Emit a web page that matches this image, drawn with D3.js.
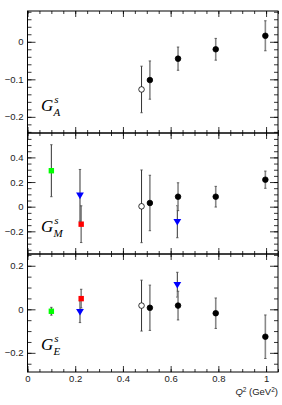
<!DOCTYPE html>
<html lang="en">
<head>
<meta charset="UTF-8">
<title>Strange form factors</title>
<script src="https://cdn.jsdelivr.net/npm/d3@7"></script>
<style>
    body { margin: 0; background: #fff; }
    text { font-family: "Liberation Sans", Arial, sans-serif; }
</style>
</head>
<body>
<div id="chart"></div>
<script>
var width = 282, height = 405;

// Q^2 positions of each data set
var q2Filled = [0.513, 0.631, 0.789, 0.997];
var q2Open = [0.478];
var q2Green = [0.1];
var q2Red = [0.225];
var q2Blue = [0.22, 0.628];

// G_A^s
var gaFilled = [-0.102, -0.045, -0.020, 0.016];
var gaFilledErr = [0.051, 0.031, 0.029, 0.040];
var gaOpen = [-0.127];
var gaOpenErr = [0.062];

// G_M^s
var gmFilled = [0.030, 0.081, 0.081, 0.219];
var gmFilledErr = [0.225, 0.113, 0.084, 0.070];
var gmOpen = [0.003];
var gmOpenErr = [0.295];
var gmGreen = [0.292];
var gmGreenErr = [0.211];
var gmRed = [-0.142];
var gmRedErr = [0.149];
var gmBlue = [0.092, -0.122];
var gmBlueErr = [0.21, 0.13];

// G_E^s
var geFilled = [0.007, 0.017, -0.018, -0.126];
var geFilledErr = [0.104, 0.066, 0.070, 0.100];
var geOpen = [0.017];
var geOpenErr = [0.117];
var geGreen = [-0.009];
var geGreenErr = [0.018];
var geRed = [0.049];
var geRedErr = [0.043];
var geBlue = [-0.011, 0.113];
var geBlueErr = [0.05, 0.057];

// axis ticks
var xMajor = [0, 0.2, 0.4, 0.6, 0.8, 1];
var yMajorA = [-0.2, -0.1, 0];
var yMajorM = [-0.2, 0, 0.2, 0.4];
var yMajorE = [-0.2, 0, 0.2];

function zip(xs, ys, es) {
    return xs.map(function (x, i) { return {x: x, y: ys[i], e: es[i]}; });
}
function range(a, b, step) {
    var out = [];
    for (var i = 0; a + i * step <= b + 1e-9; i++) out.push(+(a + i * step).toFixed(4));
    return out;
}
function fmt(d) {
    if (Math.abs(d) < 1e-9) return "0";
    return (d < 0 ? "\u2212" : "") + Math.abs(d);
}

var left = 27.5, right = 278;
var x = d3.scaleLinear().domain([0, 1.05]).range([left, right]);
var xMinor = range(0, 1.05, 0.05);

var svg = d3.select("#chart").append("svg")
    .attr("width", width)
    .attr("height", height);

var panels = [
    {top: 11, bottom: 133, domain: [-0.243, 0.082], major: yMajorA, minorStep: 0.02, sub: "A", last: false,
     sets: [
        {pts: zip(q2Open, gaOpen, gaOpenErr), type: "open"},
        {pts: zip(q2Filled, gaFilled, gaFilledErr), type: "filled"}
     ]},
    {top: 133, bottom: 254, domain: [-0.384, 0.598], major: yMajorM, minorStep: 0.05, sub: "M", last: false,
     sets: [
        {pts: zip(q2Green, gmGreen, gmGreenErr), type: "green"},
        {pts: zip(q2Red, gmRed, gmRedErr), type: "red"},
        {pts: zip(q2Blue, gmBlue, gmBlueErr), type: "blue"},
        {pts: zip(q2Open, gmOpen, gmOpenErr), type: "open"},
        {pts: zip(q2Filled, gmFilled, gmFilledErr), type: "filled"}
     ]},
    {top: 254, bottom: 372, domain: [-0.288, 0.254], major: yMajorE, minorStep: 0.05, sub: "E", last: true,
     sets: [
        {pts: zip(q2Green, geGreen, geGreenErr), type: "green"},
        {pts: zip(q2Blue, geBlue, geBlueErr), type: "blue"},
        {pts: zip(q2Red, geRed, geRedErr), type: "red"},
        {pts: zip(q2Open, geOpen, geOpenErr), type: "open"},
        {pts: zip(q2Filled, geFilled, geFilledErr), type: "filled"}
     ]}
];

panels.forEach(function (p) {
    var y = d3.scaleLinear().domain(p.domain).range([p.bottom, p.top]);
    var g = svg.append("g");
    var yMinor = range(Math.ceil(p.domain[0] / p.minorStep) * p.minorStep, p.domain[1], p.minorStep);

    // ticks, all drawn inside the frame
    function addAxis(axis, tx, ty) {
        var a = g.append("g").attr("transform", "translate(" + tx + "," + ty + ")").call(axis);
        a.select(".domain").remove();
        a.selectAll("line").attr("stroke", "#000").attr("stroke-width", 0.8);
        a.selectAll("text").attr("font-size", 9.5).attr("fill", "#222")
            .style("font-family", "'Liberation Sans', Arial, sans-serif");
        return a;
    }
    addAxis(d3.axisLeft(y).tickValues(yMinor).tickSize(-4).tickFormat(""), left, 0);
    addAxis(d3.axisLeft(y).tickValues(p.major).tickSize(-8).tickPadding(4).tickFormat(fmt), left, 0);
    addAxis(d3.axisRight(y).tickValues(yMinor).tickSize(-4).tickFormat(""), right, 0);
    addAxis(d3.axisRight(y).tickValues(p.major).tickSize(-8).tickFormat(""), right, 0);
    addAxis(d3.axisTop(x).tickValues(xMinor).tickSize(-3).tickFormat(""), 0, p.top);
    addAxis(d3.axisTop(x).tickValues(xMajor).tickSize(-6).tickFormat(""), 0, p.top);
    addAxis(d3.axisBottom(x).tickValues(xMinor).tickSize(-3).tickFormat(""), 0, p.bottom);
    addAxis(d3.axisBottom(x).tickValues(xMajor).tickSize(-6).tickPadding(3)
        .tickFormat(p.last ? fmt : function () { return ""; }), 0, p.bottom);

    g.append("rect")
        .attr("x", left).attr("y", p.top)
        .attr("width", right - left).attr("height", p.bottom - p.top)
        .attr("fill", "none").attr("stroke", "#000").attr("stroke-width", 1);

    // panel label G^s_X
    var lab = g.append("text")
        .attr("x", 41).attr("y", p.bottom - 22)
        .style("font-family", "'Liberation Serif', 'Times New Roman', serif")
        .style("font-style", "italic")
        .attr("font-size", 17);
    lab.append("tspan").text("G");
    lab.append("tspan").attr("dx", 1).attr("dy", -8).attr("font-size", 11).text("s");
    lab.append("tspan").attr("dx", -5).attr("dy", 13).attr("font-size", 11).text(p.sub);

    // error bars and markers
    p.sets.forEach(function (s) {
        var barColor = s.type === "filled" || s.type === "red" ? "#888" : "#333";
        var barWidth = s.type === "filled" || s.type === "red" ? 1.6 : 1;
        var sg = g.append("g");
        sg.selectAll("line.bar").data(s.pts).enter().append("line")
            .attr("x1", function (d) { return x(d.x); })
            .attr("x2", function (d) { return x(d.x); })
            .attr("y1", function (d) { return y(d.y + d.e); })
            .attr("y2", function (d) { return y(d.y - d.e); })
            .attr("stroke", barColor).attr("stroke-width", barWidth);
        [1, -1].forEach(function (sign) {
            sg.selectAll("line.cap" + sign).data(s.pts).enter().append("line")
                .attr("x1", function (d) { return x(d.x) - 1.2; })
                .attr("x2", function (d) { return x(d.x) + 1.2; })
                .attr("y1", function (d) { return y(d.y + sign * d.e); })
                .attr("y2", function (d) { return y(d.y + sign * d.e); })
                .attr("stroke", "#444").attr("stroke-width", 0.8);
        });

        if (s.type === "filled" || s.type === "open") {
            sg.selectAll("circle").data(s.pts).enter().append("circle")
                .attr("cx", function (d) { return x(d.x); })
                .attr("cy", function (d) { return y(d.y); })
                .attr("r", 2.8)
                .attr("fill", s.type === "filled" ? "#000" : "#fff")
                .attr("stroke", "#000").attr("stroke-width", 0.8);
        } else if (s.type === "blue") {
            sg.selectAll("path").data(s.pts).enter().append("path")
                .attr("d", function (d) {
                    var cx = x(d.x), cy = y(d.y);
                    return "M" + (cx - 3.9) + "," + (cy - 2.8) + "L" + (cx + 3.9) + "," + (cy - 2.8) +
                        "L" + cx + "," + (cy + 3.9) + "Z";
                })
                .attr("fill", "#0000ff");
        } else {
            sg.selectAll("rect").data(s.pts).enter().append("rect")
                .attr("x", function (d) { return x(d.x) - 2.7; })
                .attr("y", function (d) { return y(d.y) - 2.7; })
                .attr("width", 5.4).attr("height", 5.4)
                .attr("fill", s.type === "green" ? "#00ff00" : "#ff0000");
        }
    });
});

// x axis title
var xt = svg.append("text")
    .attr("x", right).attr("y", 395)
    .attr("text-anchor", "end")
    .attr("fill", "#222")
    .attr("font-size", 9.5);
xt.append("tspan").style("font-style", "italic").text("Q");
xt.append("tspan").attr("dy", -3.5).attr("font-size", 6.5).text("2");
xt.append("tspan").attr("dy", 3.5).text(" (GeV");
xt.append("tspan").attr("dy", -3.5).attr("font-size", 6.5).text("2");
xt.append("tspan").attr("dy", 3.5).text(")");
</script>
</body>
</html>
